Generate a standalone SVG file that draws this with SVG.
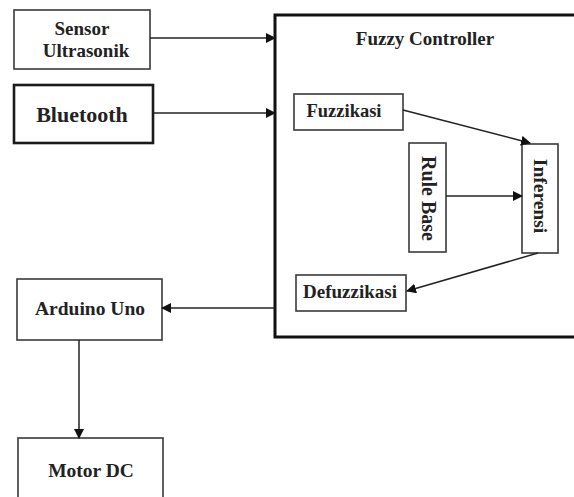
<svg xmlns="http://www.w3.org/2000/svg" width="574" height="497" viewBox="0 0 574 497">
<style>
.box{fill:#fff;stroke:#3a3a3a;stroke-width:1.6}
.thick{stroke:#1a1a1a;stroke-width:2.6}
.t{font-family:"Liberation Serif",serif;font-weight:bold;fill:#222;text-anchor:middle}
.c{stroke:#222;stroke-width:1.5;fill:none}
</style>
<defs>
<marker id="ah" viewBox="0 0 10 10" refX="9" refY="5" markerWidth="10" markerHeight="10" markerUnits="userSpaceOnUse" orient="auto">
<path d="M0,0 L10,5 L0,10 z" fill="#111"/>
</marker>
</defs>
<rect width="574" height="497" fill="#fff"/>
<g id="fuzzy-controller">
<rect x="275" y="15" width="310" height="322" fill="#fff" stroke="#111" stroke-width="3"/>
<text class="t" x="425" y="45" font-size="19">Fuzzy Controller</text>
</g>
<g id="sensor">
<rect class="box" x="14" y="10" width="136" height="59"/>
<text class="t" x="82" y="35" font-size="19">Sensor</text>
<text class="t" x="86" y="57" font-size="19">Ultrasonik</text>
</g>
<g id="bluetooth">
<rect class="box thick" x="14" y="85" width="139" height="58"/>
<text class="t" x="82" y="122" font-size="22">Bluetooth</text>
</g>
<g id="fuzzikasi">
<rect class="box" x="294" y="94" width="109" height="36"/>
<text class="t" x="344" y="117" font-size="18.5">Fuzzikasi</text>
</g>
<g id="rule-base">
<rect class="box" x="409" y="143" width="37" height="109"/>
<text class="t" font-size="20" transform="translate(421.5,198.5) rotate(90)">Rule Base</text>
</g>
<g id="inferensi">
<rect class="box" x="522" y="144" width="36" height="109"/>
<text class="t" font-size="19.5" transform="translate(534,196) rotate(90)">Inferensi</text>
</g>
<g id="defuzzikasi">
<rect class="box" x="296" y="275" width="110" height="36"/>
<text class="t" x="350" y="298" font-size="19">Defuzzikasi</text>
</g>
<g id="arduino">
<rect class="box" x="17" y="279" width="145" height="61"/>
<text class="t" x="90" y="315" font-size="19.5">Arduino Uno</text>
</g>
<g id="motor">
<rect class="box" x="18" y="438" width="145" height="70"/>
<text class="t" x="91" y="477" font-size="19.5">Motor DC</text>
</g>
<g id="connectors">
<line class="c" x1="150" y1="38" x2="275" y2="38" marker-end="url(#ah)"/>
<line class="c" x1="153" y1="113" x2="275" y2="113" stroke-width="2.4" marker-end="url(#ah)"/>
<line class="c" x1="403" y1="110" x2="530" y2="143" marker-end="url(#ah)"/>
<line class="c" x1="446" y1="196" x2="522" y2="196" marker-end="url(#ah)"/>
<line class="c" x1="538" y1="253" x2="407" y2="291" marker-end="url(#ah)"/>
<line class="c" x1="275" y1="308" x2="162" y2="308" marker-end="url(#ah)"/>
<line class="c" x1="79" y1="340" x2="79" y2="438" marker-end="url(#ah)"/>
</g>
</svg>
